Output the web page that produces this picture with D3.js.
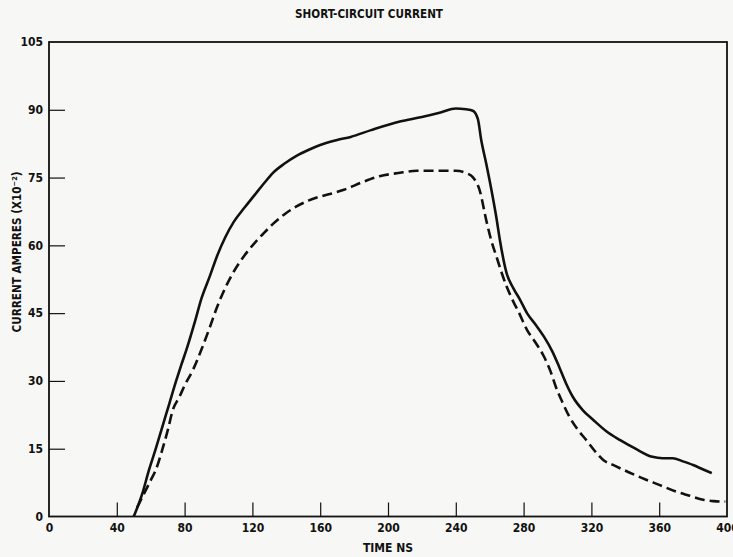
<!DOCTYPE html>
<html><head><meta charset="utf-8">
<script src="https://cdn.jsdelivr.net/npm/d3@7"></script>
<style>
html,body{margin:0;padding:0;background:#f7f7f5;}
svg{display:block;}
text{font-family:"Liberation Sans Narrow","DejaVu Sans Condensed",sans-serif;font-weight:bold;fill:#111;}
</style></head>
<body>
<svg id="chart" width="733" height="557"></svg>
<script>
const title = "SHORT-CIRCUIT CURRENT";
const xLabel = "TIME NS";
const yLabel = "CURRENT AMPERES  (X10⁻²)";
const xTicks = [0,40,80,120,160,200,240,280,320,360,400];
const yTicks = [0,15,30,45,60,75,90,105];

// solid curve
const solidTime = [50,55,59,63,67,71,75,78,81,86,90,95,99,104,109,115,121,127,132,139,146,153,160,170,178,190,207,220,231,240,246,250,253,255,258,261,264,266,270,274,278,282,287,292,297,301,305,309,315,321,329,337,346,356,362,368,374,380,386,391];
const solidCurrent = [0,5,10.3,15,20,25,30,33.5,36.8,43,48.3,53.3,57.5,61.8,65.2,68.2,71,73.8,76,78.1,79.8,81.1,82.2,83.3,84,85.5,87.4,88.4,89.4,90.3,90.1,89.8,88,83.3,78,72.3,66,61.2,53.8,50.5,47.9,45,42.5,39.8,36.5,33.1,29.5,26.5,23.5,21.4,18.8,16.9,15,13.2,12.9,12.9,12.2,11.4,10.4,9.6];

// dashed curve
const dashTime = [52,56,60,63,67,70,73,77,80,85,90,95,99,104,109,115,121,127,132,139,146,153,160,167,174,185,195,206,217,228,240,246,250,254,258,261,264,267,270,274,277,282,287,292,296,299,303,307,312,317,322,327,334,342,350,360,370,378,386,392,399];
const dashCurrent = [2,5,8,10.3,15,19,23.5,26.5,29,32.5,37,42,46.2,50.6,54.2,57.6,60.4,62.8,64.7,66.9,68.6,69.9,70.8,71.5,72.3,74,75.3,76,76.5,76.5,76.5,76,75.1,72.3,65.5,61,57.5,54,50.9,47.5,45.3,41.3,38.5,35.4,32,28.7,25.2,22.1,19.2,16.9,14.5,12.5,11.2,9.8,8.5,7,5.5,4.6,3.7,3.4,3.3];

const svg = d3.select("#chart");
const L = 49, R = 727, T = 42, B = 516.5;
const x = d3.scaleLinear().domain([0,400]).range([L,R]);
const y = d3.scaleLinear().domain([0,105]).range([B,T]);

// title
svg.append("text").attr("x",369).attr("y",18).attr("text-anchor","middle")
  .attr("font-size",11.5).attr("textLength",148).attr("lengthAdjust","spacingAndGlyphs").text(title);

// frame
svg.append("rect").attr("x",L).attr("y",T).attr("width",R-L).attr("height",B-T)
  .attr("fill","none").attr("stroke","#111").attr("stroke-width",1.8);

// y axis
const ya = svg.append("g").attr("transform",`translate(${L},0)`)
  .call(d3.axisLeft(y).tickValues(yTicks).tickSize(-16).tickPadding(6).tickFormat(d3.format("d")));
ya.select(".domain").remove();
ya.selectAll(".tick line").attr("stroke","#111").attr("stroke-width",1.2);
ya.selectAll(".tick text").attr("font-size",12);
ya.selectAll(".tick").filter(d=>d===0||d===105).select("line").remove();

// x axis
const xa = svg.append("g").attr("transform",`translate(0,${B})`)
  .call(d3.axisBottom(x).tickValues(xTicks).tickSize(-14).tickPadding(7).tickFormat(d3.format("d")));
xa.select(".domain").remove();
xa.selectAll(".tick line").attr("stroke","#111").attr("stroke-width",1.2);
xa.selectAll(".tick text").attr("font-size",12);
xa.selectAll(".tick").filter(d=>d===0||d===400).select("line").remove();
svg.selectAll(".tick text").attr("fill","#111");
svg.selectAll("g").attr("font-family",null).attr("font-size",null);

// axis titles
svg.append("text").attr("x",x(200)).attr("y",552).attr("text-anchor","middle")
  .attr("font-size",12).text(xLabel);
svg.append("text").attr("transform","translate(21,252) rotate(-90)").attr("text-anchor","middle")
  .attr("font-size",12).attr("textLength",161).attr("lengthAdjust","spacingAndGlyphs").text(yLabel);

// curves
const line = d3.line().x(d=>x(d[0])).y(d=>y(d[1])).curve(d3.curveMonotoneX);
svg.append("path").datum(d3.zip(solidTime,solidCurrent)).attr("d",line)
  .attr("fill","none").attr("stroke","#111").attr("stroke-width",2.6).attr("stroke-linejoin","round");
svg.append("path").datum(d3.zip(dashTime,dashCurrent)).attr("d",line)
  .attr("fill","none").attr("stroke","#111").attr("stroke-width",2.6).attr("stroke-dasharray","10,5");
</script>
</body></html>
